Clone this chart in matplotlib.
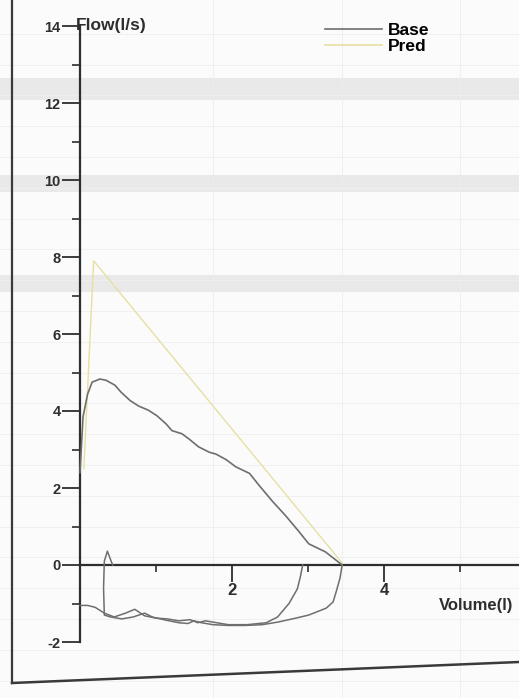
import matplotlib
matplotlib.use("Agg")
import matplotlib.pyplot as plt
import numpy as np
from matplotlib.lines import Line2D

plt.rcParams['font.family'] = ['Liberation Sans', 'DejaVu Sans']
plt.rcParams['axes.unicode_minus'] = False

# --- data read off the scanned flow-volume loop ---
# expiratory limb (trial 1)
base_exp_vol = [0.00, 0.04, 0.10, 0.16, 0.26, 0.34, 0.46, 0.54, 0.66, 0.77, 0.90,
                1.01, 1.13, 1.21, 1.34, 1.43, 1.56, 1.70, 1.79, 1.92, 2.05, 2.23,
                2.36, 2.53, 2.71, 2.88, 3.01, 3.23, 3.45]
base_exp_flow = [2.40, 3.85, 4.44, 4.75, 4.83, 4.80, 4.67, 4.49, 4.27, 4.13, 4.02,
                 3.88, 3.67, 3.49, 3.41, 3.28, 3.07, 2.93, 2.88, 2.74, 2.55, 2.38,
                 2.06, 1.66, 1.27, 0.87, 0.55, 0.34, 0.00]

# inspiratory limb (trial 1, outer)
base_insp_vol = [3.45, 3.42, 3.37, 3.33, 3.24, 3.01, 2.84, 2.61, 2.40, 2.17, 1.95,
                 1.75, 1.60, 1.50, 1.42, 1.30, 1.10, 0.95, 0.85, 0.70, 0.55, 0.40,
                 0.32, 0.31, 0.32, 0.36, 0.41, 0.43]
base_insp_flow = [0.00, -0.35, -0.70, -0.96, -1.12, -1.30, -1.38, -1.48, -1.55, -1.57, -1.57,
                  -1.55, -1.50, -1.45, -1.52, -1.50, -1.42, -1.35, -1.25, -1.35, -1.40, -1.35,
                  -1.30, -0.60, 0.10, 0.36, 0.10, 0.00]

# inspiratory limb (trial 2, inner)
base2_insp_vol = [2.93, 2.90, 2.86, 2.75, 2.60, 2.45, 2.20, 1.95, 1.80, 1.65, 1.55,
                  1.45, 1.30, 1.15, 1.00, 0.85, 0.72, 0.60, 0.45, 0.32, 0.20, 0.10, 0.00]
base2_insp_flow = [0.00, -0.30, -0.62, -1.00, -1.35, -1.50, -1.55, -1.55, -1.50, -1.45, -1.50,
                   -1.42, -1.45, -1.40, -1.38, -1.32, -1.15, -1.25, -1.35, -1.25, -1.10, -1.05, -1.05]

# predicted curve
pred_vol = [0.05, 0.18, 3.45]
pred_flow = [2.50, 7.90, 0.05]

y_ticks = [-2, 0, 2, 4, 6, 8, 10, 12, 14]
x_ticks = [2, 4]

base_color = '#6e6e6e'
pred_color = '#e6e0a0'
ink = '#2e2e2e'

# pixel mapping of the scan: origin at (80, 565), 76 px per litre, 38.5 px per l/s
W, H = 519, 698
ox, oy, sx, sy = 80, 565, 76.0, 38.5

fig = plt.figure(figsize=(W / 100, H / 100), dpi=100)
fig.patch.set_facecolor('#fbfbfb')
ax = fig.add_axes([0, 0, 1, 1])
ax.set_facecolor('#fbfbfb')
ax.set_xlim(-ox / sx, (W - ox) / sx)
ax.set_ylim(-(H - oy) / sy, oy / sy)

# faint scanned-paper bands and rules
for lo, hi in [(12.08, 12.65), (9.69, 10.13), (7.09, 7.53)]:
    ax.axhspan(lo, hi, color='#e9e9e9', lw=0, zorder=0)
for yv in np.arange(-3, 14.5, 0.8):
    ax.axhline(yv, color='#efefef', lw=0.6, zorder=0)
for xv in [1.75, 3.45, 5.0]:
    ax.axvline(xv, color='#ededed', lw=0.6, zorder=0)

# axes as spines through the origin
for s in ['top', 'right']:
    ax.spines[s].set_visible(False)
ax.spines['left'].set_position(('data', 0))
ax.spines['bottom'].set_position(('data', 0))
ax.spines['left'].set_bounds(-2, 14)
ax.spines['bottom'].set_bounds(0, (W - ox) / sx)
for s in ['left', 'bottom']:
    ax.spines[s].set_color(ink)
    ax.spines[s].set_linewidth(1.6)

ax.set_yticks(y_ticks)
ax.set_yticks([-1, 1, 3, 5, 7, 9, 11, 13], minor=True)
ax.set_xticks(x_ticks)
ax.set_xticks([1, 3, 5], minor=True)
ax.tick_params(axis='y', which='major', direction='out', length=13, width=1.3,
               color=ink, pad=1, labelsize=10.5, labelcolor=ink)
ax.tick_params(axis='y', which='minor', direction='out', length=6, width=1.2, color=ink)
ax.tick_params(axis='x', which='major', direction='out', length=12, width=1.3,
               color=ink, pad=1, labelsize=12, labelcolor=ink)
ax.tick_params(axis='x', which='minor', direction='out', length=5, width=1.2, color=ink)
for lab in ax.get_yticklabels() + ax.get_xticklabels():
    lab.set_fontweight('bold')

# curves
ax.plot(pred_vol, pred_flow, color=pred_color, lw=1.0, zorder=2)
ax.plot(base_exp_vol, base_exp_flow, color=base_color, lw=1.2, zorder=3)
ax.plot(base_insp_vol, base_insp_flow, color=base_color, lw=1.1, zorder=3)
ax.plot(base2_insp_vol, base2_insp_flow, color=base_color, lw=1.1, zorder=3)

# axis titles
ax.text(-0.06, 14.02, 'Flow(l/s)', fontsize=12.5, fontweight='bold', color=ink,
        ha='left', va='center')
ax.text(4.72, -1.04, 'Volume(l)', fontsize=12, fontweight='bold', color=ink,
        ha='left', va='center')

# legend
handles = [Line2D([], [], color=base_color, lw=1.2),
           Line2D([], [], color=pred_color, lw=1.2)]
ax.legend(handles, ['Base', 'Pred'], loc='upper left',
          bbox_to_anchor=(325 / W, 1 - 23 / H), bbox_transform=fig.transFigure,
          frameon=False, handlelength=3.3, handletextpad=0.3,
          labelspacing=0.05, borderpad=0, borderaxespad=0,
          prop={'weight': 'bold', 'size': 12.5})

# page frame of the printout
fig.add_artist(Line2D([12 / W, 12 / W], [1 - 0 / H, 1 - 683 / H],
                      color='#3a3a3a', lw=1.6, transform=fig.transFigure))
fig.add_artist(Line2D([12 / W, 1], [1 - 683 / H, 1 - 662 / H],
                      color='#3a3a3a', lw=1.8, transform=fig.transFigure))

fig.savefig('out.png', dpi=100, facecolor=fig.get_facecolor())
